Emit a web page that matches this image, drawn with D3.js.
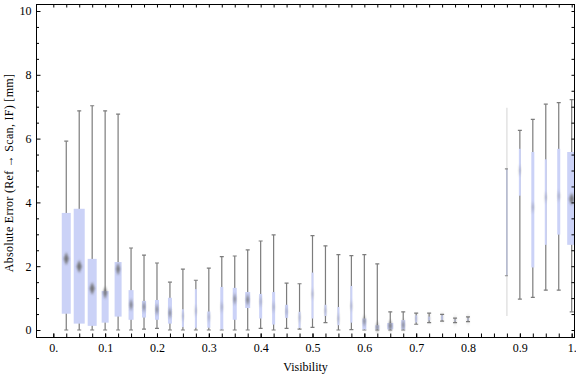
<!DOCTYPE html>
<html>
<head>
<meta charset="utf-8">
<script src="https://cdn.jsdelivr.net/npm/d3@7"></script>
<style>
  body { margin: 0; background: #fff; }
  text { font-family: "Liberation Serif", "Times New Roman", serif; }
</style>
</head>
<body>
<div id="chart"></div>
<script>
// Bins of visibility (0.825 and 0.85 have no data)
var visibility = [0.025, 0.05, 0.075, 0.1, 0.125, 0.15, 0.175, 0.2, 0.225, 0.25,
  0.275, 0.3, 0.325, 0.35, 0.375, 0.4, 0.425, 0.45, 0.475, 0.5,
  0.525, 0.55, 0.575, 0.6, 0.625, 0.65, 0.675, 0.7, 0.725, 0.75,
  0.775, 0.8, 0.875, 0.9, 0.925, 0.95, 0.975, 1.0];

// Box-whisker statistics (mm)
var whiskerLow = [0, 0, 0, 0, 0, 0, 0.03, 0.05, 0, 0,
  0, 0, 0, 0, 0, 0.05, 0, 0.05, 0.03, 0.08,
  0.23, 0, 0.01, 0, 0, 0, 0, 0.18, 0.23, 0.28,
  0.23, 0.26, 0.44, 0.97, 1.02, 1.25, 1.25, 0.57];
var lowerQuartile = [0.51, 0.2, 0.13, 0.23, 0.42, 0.32, 0.39, 0.32, 0.2, 0.09,
  0.07, 0.07, 0.02, 0.32, 0.69, 0.36, 0.17, 0.38, 0.06, 0.36,
  0.44, 0.15, 0.23, 0.02, 0.02, 0.02, 0.02, 0.24, 0.3, 0.32,
  0.27, 0.3, 1.7, 4.21, 1.96, 2.67, 2.99, 2.67];
var medianError = [2.23, 1.99, 1.3, 1.17, 1.91, 0.79, 0.73, 0.64, 0.53, 0.44,
  0.6, 0.41, 0.72, 0.97, 0.95, 0.89, 0.72, 0.58, 0.39, 1.13,
  0.6, 0.35, 0.75, 0.28, 0.09, 0.13, 0.16, 0.36, 0.36, 0.39,
  0.3, 0.33, 3.4, 5.0, 3.85, 4.16, 4.2, 4.11];
var upperQuartile = [3.67, 3.8, 2.23, 1.22, 2.13, 1.25, 0.91, 0.94, 1.01, 0.65,
  1.28, 0.58, 1.35, 1.32, 1.19, 1.13, 1.19, 0.79, 0.57, 1.8,
  0.79, 0.72, 1.38, 0.36, 0.15, 0.22, 0.31, 0.46, 0.42, 0.46,
  0.33, 0.37, 5.05, 5.68, 5.58, 5.35, 5.68, 5.58];
var whiskerHigh = [5.92, 6.87, 7.03, 6.87, 6.77, 2.57, 2.35, 2.1, 1.5, 1.91,
  1.56, 1.94, 2.3, 2.32, 2.51, 2.79, 2.98, 1.47, 1.45, 2.96,
  2.64, 2.36, 2.33, 2.36, 2.07, 0.57, 0.57, 0.53, 0.53, 0.49,
  0.37, 0.41, 6.97, 6.26, 6.6, 7.08, 7.13, 7.22];
// Relative number of samples per bin (drives box width)
var sampleShare = [9, 11, 9, 7, 7, 5, 4, 4, 4, 2,
  2, 3, 3, 4, 5, 3, 3, 3, 2, 2,
  2, 2, 2, 4, 4, 6, 4, 2, 2, 2,
  1, 1, 0.6, 2, 3, 2, 3, 9];

var xTickValues = [0, 0.1, 0.2, 0.3, 0.4, 0.5, 0.6, 0.7, 0.8, 0.9, 1.0];
var xTickLabels = ["0.", "0.1", "0.2", "0.3", "0.4", "0.5", "0.6", "0.7", "0.8", "0.9", "1."];
var yTickValues = [0, 2, 4, 6, 8, 10];

var svgWidth = 576;
var svgHeight = 377;

// plot frame
var frame = { left: 36.5, right: 574.5, top: 4.5, bottom: 337.5 };

var svg = d3
  .select("#chart")
  .append("svg")
  .attr("width", svgWidth)
  .attr("height", svgHeight);

var x = d3.scaleLinear().domain([0, 1]).range([53.3, 571.7]);
var y = d3.scaleLinear().domain([0, 10]).range([330, 11]);
var boxWidth = d3.scaleLinear().domain([0, 11]).range([0, 11]);

var bins = visibility.map(function(v, i) {
  return {
    v: v,
    lo: whiskerLow[i],
    q1: lowerQuartile[i],
    med: medianError[i],
    q3: upperQuartile[i],
    hi: whiskerHigh[i],
    n: sampleShare[i]
  };
});

var defs = svg.append("defs");
defs.append("clipPath")
  .attr("id", "plotClip")
  .append("rect")
  .attr("x", frame.left)
  .attr("y", frame.top)
  .attr("width", frame.right - frame.left)
  .attr("height", frame.bottom - frame.top);

defs.append("filter")
  .attr("id", "soft")
  .attr("x", "-100%").attr("y", "-50%")
  .attr("width", "300%").attr("height", "200%")
  .append("feGaussianBlur")
  .attr("stdDeviation", 0.8);

var plot = svg.append("g").attr("clip-path", "url(#plotClip)");

var boxGroups = plot.selectAll("g.bin")
  .data(bins)
  .enter()
  .append("g")
  .attr("class", "bin");

// whiskers (very sparse bins fade out)
boxGroups.append("line")
  .attr("x1", d => x(d.v))
  .attr("x2", d => x(d.v))
  .attr("y1", d => y(d.lo))
  .attr("y2", d => y(d.hi))
  .attr("stroke", d => (d.n < 1 ? "#dcdcdc" : "#7c7c7c"))
  .attr("stroke-width", 1.2);

["lo", "hi"].forEach(function(key) {
  boxGroups.filter(d => d.n >= 1).append("line")
    .attr("x1", d => x(d.v) - 2)
    .attr("x2", d => x(d.v) + 2)
    .attr("y1", d => y(d[key]))
    .attr("y2", d => y(d[key]))
    .attr("stroke", "#7c7c7c")
    .attr("stroke-width", 1.2);
});

// boxes
boxGroups.append("rect")
  .attr("x", d => x(d.v) - boxWidth(Math.max(d.n, 1.2)) / 2)
  .attr("width", d => boxWidth(Math.max(d.n, 1.2)))
  .attr("y", d => y(d.q3))
  .attr("height", d => y(d.q1) - y(d.q3))
  .attr("fill", d => (d.n < 1 ? "#a3aac6" : "#cbd2f7"));

// caps at box ends for the sparse bin
["q1", "q3"].forEach(function(key) {
  boxGroups.filter(d => d.n < 1).append("line")
    .attr("x1", d => x(d.v) - 2)
    .attr("x2", d => x(d.v) + 1)
    .attr("y1", d => y(d[key]))
    .attr("y2", d => y(d[key]))
    .attr("stroke", "#8a8a8a")
    .attr("stroke-width", 1.2);
});

// median diamonds
boxGroups.filter(d => d.n >= 1).append("path")
  .attr("d", function(d) {
    var cx = x(d.v), cy = y(d.med);
    var hw = Math.max(0.7, Math.min(2.6, boxWidth(d.n) * 0.28));
    var hh = 6.5;
    return "M" + cx + "," + (cy - hh) + "L" + (cx + hw) + "," + cy +
      "L" + cx + "," + (cy + hh) + "L" + (cx - hw) + "," + cy + "Z";
  })
  .attr("fill", "#6a6a6a")
  .attr("opacity", d => (d.n >= 4 ? 0.9 : 0.5))
  .attr("filter", "url(#soft)");

// axes (ticks inside the frame)
var xMinor = d3.range(0, 41).map(i => i * 0.025);
var yMinor = d3.range(0, 21).map(i => i * 0.5);

function tidy(g) {
  g.select(".domain").remove();
  g.selectAll("line").attr("stroke", "#000");
  g.selectAll("text").attr("fill", "#000").style("font-size", "12px");
}

svg.append("g")
  .attr("transform", `translate(0, ${frame.bottom})`)
  .call(d3.axisBottom(x).tickValues(xMinor).tickSize(-4).tickFormat(""))
  .call(tidy);

svg.append("g")
  .attr("transform", `translate(0, ${frame.bottom})`)
  .call(d3.axisBottom(x).tickValues(xTickValues).tickSize(-4).tickPadding(6)
    .tickFormat((d, i) => xTickLabels[i]))
  .call(tidy);

svg.append("g")
  .attr("transform", `translate(0, ${frame.top})`)
  .call(d3.axisTop(x).tickValues(xMinor).tickSize(-3).tickFormat(""))
  .call(tidy);

svg.append("g")
  .attr("transform", `translate(${frame.left}, 0)`)
  .call(d3.axisLeft(y).tickValues(yMinor.filter(v => v % 2 !== 0)).tickSize(-2.5).tickFormat(""))
  .call(tidy);

svg.append("g")
  .attr("transform", `translate(${frame.left}, 0)`)
  .call(d3.axisLeft(y).tickValues(yTickValues).tickSize(-4).tickPadding(5).tickFormat(d3.format("d")))
  .call(tidy);

svg.append("g")
  .attr("transform", `translate(${frame.right}, 0)`)
  .call(d3.axisRight(y).tickValues(yMinor).tickSize(-3).tickFormat(""))
  .call(tidy);

// frame
svg.append("rect")
  .attr("x", frame.left)
  .attr("y", frame.top)
  .attr("width", frame.right - frame.left)
  .attr("height", frame.bottom - frame.top)
  .attr("fill", "none")
  .attr("stroke", "#000")
  .attr("stroke-width", 1);

// axis labels
svg.append("text")
  .attr("x", (frame.left + frame.right) / 2)
  .attr("y", 371)
  .attr("text-anchor", "middle")
  .style("font-size", "12px")
  .text("Visibility");

svg.append("text")
  .attr("transform", "rotate(-90)")
  .attr("x", -173)
  .attr("y", 13)
  .attr("text-anchor", "middle")
  .style("font-size", "12px")
  .style("letter-spacing", "0.3px")
  .text("Absolute Error (Ref \u2192 Scan, IF) [mm]");
</script>
</body>
</html>
